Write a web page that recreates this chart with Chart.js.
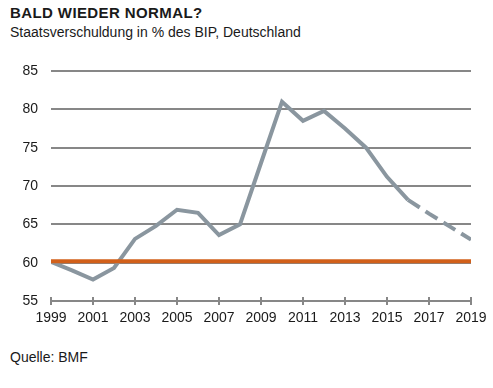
<!DOCTYPE html>
<html>
<head>
<meta charset="utf-8">
<script src="https://cdn.jsdelivr.net/npm/chart.js@4"></script>
<style>
  body { margin: 0; background: #fff; font-family: 'Liberation Sans', Arial, sans-serif; color: #1a1a1a; }
  #wrap { position: relative; width: 493px; height: 388px; overflow: hidden; }
  .txt { position: absolute; left: 10px; font-size: 14px; line-height: 14px; white-space: nowrap; }
  #title { top: 5px; font-size: 15px; line-height: 15px; font-weight: bold; letter-spacing: 0.4px; }
  #sub { top: 25px; }
  #src { top: 350px; }
  canvas { position: absolute; left: 0; top: 0; }
</style>
</head>
<body>
<div id="wrap">
  <div class="txt" id="title">BALD WIEDER NORMAL?</div>
  <div class="txt" id="sub">Staatsverschuldung in % des BIP, Deutschland</div>
  <div class="txt" id="src">Quelle: BMF</div>
  <canvas id="chart" width="493" height="388"></canvas>
</div>
<script>
const years = [1999, 2000, 2001, 2002, 2003, 2004, 2005, 2006, 2007, 2008, 2009,
  2010, 2011, 2012, 2013, 2014, 2015, 2016, 2017, 2018, 2019]
const debt = [60.1, 59.0, 57.8, 59.3, 63.1, 64.8, 66.9, 66.5, 63.6, 65.0, 73.0,
  81.0, 78.5, 79.8, 77.5, 75.0, 71.2, 68.2, 66.4, 64.7, 63.0]
const forecastFrom = 2016
const limitYears = [1999, 2019]
const limitValue = [60.2, 60.2]
const yTicks = [55, 60, 65, 70, 75, 80, 85]

const gridGray = '#878787'

// tick marks crossing the x axis line
const axisTicks = {
  id: 'axisTicks',
  afterDraw(chart) {
    const x = chart.scales.x
    const ctx = chart.ctx
    const y = chart.chartArea.bottom
    ctx.save()
    ctx.strokeStyle = gridGray
    ctx.lineWidth = 2
    x.ticks.forEach((t) => {
      const px = Math.round(x.getPixelForValue(t.value))
      ctx.beginPath()
      ctx.moveTo(px, y - 4)
      ctx.lineTo(px, y + 4)
      ctx.stroke()
    })
    ctx.restore()
  },
}

new Chart(document.getElementById('chart'), {
  type: 'line',
  data: {
    datasets: [
      {
        label: 'Grenze',
        data: limitYears.map((x, i) => ({ x, y: limitValue[i] })),
        borderColor: '#d2601a',
        borderWidth: 4,
        pointRadius: 0,
        order: 0,
      },
      {
        label: 'Staatsverschuldung',
        data: years.map((x, i) => ({ x, y: debt[i] })),
        borderColor: '#8a969f',
        borderWidth: 4,
        pointRadius: 0,
        tension: 0,
        order: 1,
        segment: {
          borderDash: (ctx) => (ctx.p0.parsed.x >= forecastFrom ? [14, 7] : undefined),
        },
      },
    ],
  },
  options: {
    responsive: false,
    animation: false,
    layout: { padding: { top: 71, right: 22, left: 0, bottom: 0 } },
    plugins: { legend: { display: false }, tooltip: { enabled: false } },
    scales: {
      x: {
        type: 'linear',
        min: 1999,
        max: 2019,
        afterBuildTicks: (s) => {
          s.ticks = years.filter((y) => (y - 1999) % 2 === 0).map((v) => ({ value: v }))
        },
        afterFit: (s) => {
          s.height = 87
          s.paddingRight = 0
          s.paddingLeft = 0
        },
        grid: { drawOnChartArea: false, drawTicks: false },
        border: { display: true, color: gridGray, width: 2 },
        ticks: {
          padding: 9,
          maxRotation: 0,
          autoSkip: false,
          color: '#1a1a1a',
          font: { family: "'Liberation Sans', Arial", size: 14 },
          callback: (v) => String(v),
        },
      },
      y: {
        min: 55,
        max: 85,
        afterBuildTicks: (s) => { s.ticks = yTicks.map((v) => ({ value: v })) },
        afterFit: (s) => { s.width = 51 },
        grid: { color: gridGray, lineWidth: 2, drawTicks: false },
        border: { display: false },
        ticks: {
          padding: 13,
          color: '#1a1a1a',
          font: { family: "'Liberation Sans', Arial", size: 14 },
        },
      },
    },
  },
  plugins: [axisTicks],
})
</script>
</body>
</html>
